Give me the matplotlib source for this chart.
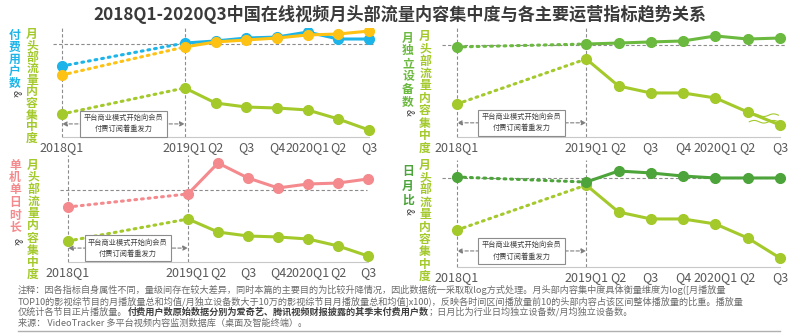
import matplotlib
matplotlib.use("Agg")
import matplotlib.pyplot as plt
import numpy as np

plt.rcParams['font.family'] = ['Noto Sans CJK SC', 'DejaVu Sans']

W, H = 800, 336

# quarter index: 2018Q1 = 0, 2019Q1 = 4 ... 2020Q3 = 10
quarters = [0, 4, 5, 6, 7, 8, 9, 10]
tick_labels = ["2018Q1", "2019Q1", "Q2", "Q3", "Q4", "2020Q1", "Q2", "Q3"]

# relative index values (log processed)
concentration_1 = [21.1, 45.0, 31.2, 27.5, 26.6, 24.8, 16.5, 6.4]
paid_iqiyi = [65.1, 86.2, 88.1, 90.8, 91.7, 96.3, 89.9, 89.9]
paid_tencent = [56.9, 82.6, 87.2, 89.0, 90.8, 93.6, 94.5, 97.2]
ref_1 = 85.3

concentration_2 = [30.3, 71.6, 46.8, 40.4, 40.4, 35.8, 22.9, 11.0]
devices = [82.6, 85.3, 86.2, 87.2, 88.1, 92.7, 89.9, 90.8]
ref_2 = 84.4

concentration_3 = [19.6, 40.2, 28.0, 24.3, 23.4, 21.5, 15.0, 5.6]
daily_time = [51.4, 63.6, 92.5, 78.5, 69.2, 72.9, 73.8, 77.6]
ref_3 = 67.3

concentration_4 = [34.6, 76.6, 51.4, 44.9, 44.9, 40.2, 27.1, 8.4]
dau_mau = [84.1, 79.4, 89.7, 87.9, 85.0, 83.2, 83.2, 83.2]
ref_4 = 83.2

c_green = '#a3c92b'
c_blue = '#1db4e9'
c_yellow = '#fdc213'
c_pink = '#f48a8d'
c_dgreen = '#6bb93f'
c_dgreen2 = '#4da43a'
c_grid = '#8c8c8c'
c_tick = '#595959'

fig = plt.figure(figsize=(W / 100, H / 100), dpi=100)


def add_ax(l, t, r, b, x0, scale):
    ax = fig.add_axes([l / W, 1 - b / H, (r - l) / W, (b - t) / H])
    ax.set_xlim((l - x0) / scale, (r - x0) / scale)
    ax.set_ylim(0, 100)
    for s in ['top', 'right', 'left']:
        ax.spines[s].set_visible(False)
    ax.spines['bottom'].set_color('#c8c8c8')
    ax.spines['bottom'].set_linewidth(0.8)
    ax.spines['bottom'].set_bounds(0, 10)
    ax.set_yticks([])
    ax.set_xticks(quarters)
    ax.set_xticklabels(tick_labels, fontsize=9, color=c_tick)
    ax.tick_params(axis='x', length=0, pad=3)
    ax.patch.set_alpha(0)
    return ax


def series(ax, vals, color, z=3):
    ax.plot(quarters[:2], vals[:2], color=color, lw=2.2, ls=(0, (0.6, 1.6)),
            dash_capstyle='round', zorder=z)
    ax.plot(quarters[1:], vals[1:], color=color, lw=2.2, zorder=z)
    ax.plot(quarters, vals, 'o', color=color, ms=7, mec=color, zorder=z + 1)


def frame(ax, ref, x_from, x_to, ann_y):
    ax.hlines(ref, x_from, x_to, color=c_grid, lw=0.8, ls=(0, (3, 2)), zorder=1)
    for xv in (0, 4):
        ax.axvline(xv, color=c_grid, lw=0.8, ls=(0, (3, 2)), zorder=1)
    ax.annotate('', xy=(0, ann_y), xytext=(4, ann_y),
                arrowprops=dict(arrowstyle='<|-|>', color='#7f7f7f', lw=0.8,
                                ls=(0, (3, 2)), mutation_scale=7, shrinkA=0, shrinkB=0),
                zorder=2)
    ax.text(2, ann_y, '平台商业模式开始向会员\n付费订阅着重发力', ha='center', va='center',
            fontsize=5.2, color='#404040', linespacing=1.5, zorder=5,
            bbox=dict(boxstyle='square,pad=0.45', fc='white', ec='#8c8c8c', lw=0.8))


def vtext(x, y0, step, s, color, size=8.5):
    for i, ch in enumerate(s):
        fig.text(x / W, 1 - (y0 + i * step) / H, ch, ha='center', va='center',
                 fontsize=size, color=color, fontweight='bold')


def amp(x, y):
    fig.text(x / W, 1 - y / H, '&', ha='center', va='center', fontsize=7,
             color='#404040', rotation=-90)


# panel 1: paid users
ax1 = add_ax(53, 28, 378, 137, 62, 30.7)
frame(ax1, ref_1, -0.29, 10.13, 12)
series(ax1, concentration_1, c_green)
series(ax1, paid_iqiyi, c_blue)
series(ax1, paid_tencent, c_yellow, z=4)
vtext(32, 34, 11.6, '月头部流量内容集中度', c_green)
vtext(15, 35, 12, '付费用户数', c_blue)
amp(16, 93)

# panel 2: monthly devices
ax2 = add_ax(442, 28, 790, 137, 457, 32.3)
frame(ax2, ref_2, -0.46, 10.16, 13)
series(ax2, concentration_2, c_green)
series(ax2, devices, c_dgreen)
# axis-break mark between the last two points
bx = np.linspace(9.05, 9.95, 30)
for yb in (20.0, 14.0):
    ax2.plot(bx, yb + 1.2 * np.sin((bx - 9.05) * 2 * np.pi / 0.6), color=c_green,
             lw=0.8, zorder=2)
vtext(425, 36, 12.5, '月头部流量内容集中度', c_green)
vtext(408, 38, 12.8, '月独立设备数', c_dgreen)
amp(409, 112)

# panel 3: daily time per device
ax3 = add_ax(55, 155, 378, 262, 68, 30)
frame(ax3, ref_3, -0.27, 9.97, 13)
series(ax3, concentration_3, c_green)
series(ax3, daily_time, c_pink)
vtext(33, 165, 12.2, '月头部流量内容集中度', c_green)
vtext(15, 165, 12.5, '单机单日时长', c_pink)
amp(17, 241)

# panel 4: DAU / MAU
ax4 = add_ax(442, 160, 790, 267, 457, 32.3)
frame(ax4, ref_4, -0.46, 10.14, 15)
series(ax4, concentration_4, c_green)
series(ax4, dau_mau, c_dgreen2)
vtext(425, 165, 12.4, '月头部流量内容集中度', c_green)
vtext(408, 172, 14, '日月比', c_dgreen2)
amp(409, 211)

fig.text(0.5, 1 - 14 / H, '2018Q1-2020Q3中国在线视频月头部流量内容集中度与各主要运营指标趋势关系',
         ha='center', va='center', fontsize=12.3, fontweight='bold', color='#3a3a3a')

# footnotes
note_size = 6.6
note_color = '#6b6b6b'
fig.text(18 / W, 1 - 290 / H,
         '注释：因各指标自身属性不同，量级间存在较大差异，同时本篇的主要目的为比较升降情况，因此数据统一采取取log方式处理。'
         '月头部内容集中度具体衡量维度为log([月播放量',
         fontsize=note_size, color=note_color, va='center')
fig.text(18 / W, 1 - 301 / H,
         'TOP10的影视综节目的月播放量总和均值/月独立设备数大于10万的影视综节目月播放量总和均值]x100)，'
         '反映各时间区间播放量前10的头部内容占该区间整体播放量的比重。播放量',
         fontsize=note_size, color=note_color, va='center')
renderer = fig.canvas.get_renderer()
parts = [('仅统计各节目正片播放量。', 'normal', note_color),
         ('付费用户数原始数据分别为爱奇艺、腾讯视频财报披露的其季末付费用户数', 'bold', '#404040'),
         ('；日月比为行业日均独立设备数/月均独立设备数。', 'normal', note_color)]
xp = 18
for txt, wt, col in parts:
    t = fig.text(xp / W, 1 - 312 / H, txt, fontsize=note_size, color=col,
                 fontweight=wt, va='center')
    xp += t.get_window_extent(renderer).width
fig.text(18 / W, 1 - 323 / H, '来源： VideoTracker 多平台视频内容监测数据库（桌面及智能终端）。',
         fontsize=note_size, color=note_color, va='center')
fig.add_artist(plt.Line2D([18 / W, 780 / W], [1 - 331 / H, 1 - 331 / H], color='#b0b0b0', lw=1))

fig.savefig('out.png', dpi=100)
